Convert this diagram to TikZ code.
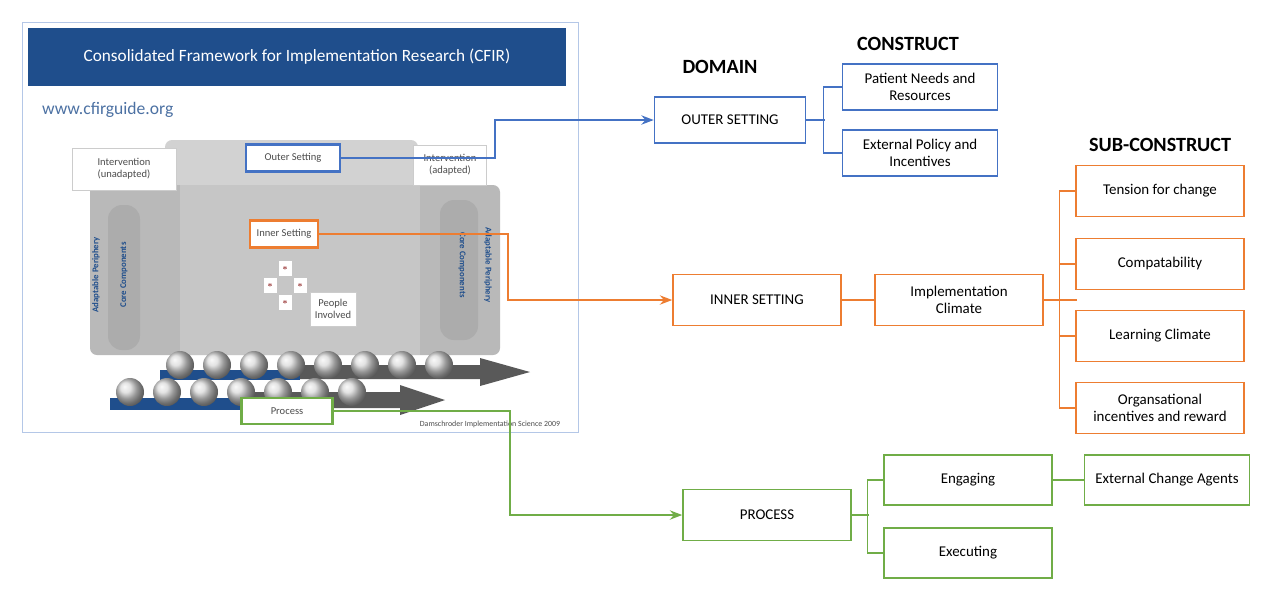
\documentclass[tikz,border=0pt]{standalone}
\usepackage{fontspec}
\setmainfont{Carlito}
\usetikzlibrary{arrows.meta,positioning}
\definecolor{cblue}{HTML}{4472C4}
\definecolor{corange}{HTML}{ED7D31}
\definecolor{cgreen}{HTML}{70AD47}
\definecolor{cbar}{HTML}{1F4E8C}
\tikzset{
  box/.style={draw, line width=0.9pt, fill=white, align=center, font=\fontsize{8.5}{10}\selectfont,
              minimum width=3.36cm, minimum height=1.02cm, inner sep=1pt},
  head/.style={font=\fontsize{11.5}{13}\selectfont\bfseries},
  tag/.style={draw=gray!40, fill=white, align=center, font=\fontsize{6}{7}\selectfont, text=gray!60!black, inner sep=1pt},
  link/.style={line width=1.2pt, -{Stealth[length=7pt]}},
}
\begin{document}
\begin{tikzpicture}[x=0.02cm, y=-0.02cm]
    \useasboundingbox (0,0) rectangle (1280,600);
    % left picture
    \draw[cblue!40, fill=white] (22,22) rectangle (578,432);
    \node[fill=cbar, text=white, minimum width=10.78cm, minimum height=1.16cm, font=\fontsize{9.8}{11}\selectfont] (title) at (297,57) {Consolidated Framework for Implementation Research (CFIR)};
    \node[text=cbar!80, font=\fontsize{10}{12}\selectfont, anchor=west] (url) at (36,110) {www.cfirguide.org};
    \fill[gray!35, rounded corners=4pt] (165,140) rectangle (418,190);
    \fill[gray!55, rounded corners=4pt] (90,185) rectangle (500,355);
    \fill[gray!45] (180,185) rectangle (420,355);
    \fill[gray!65, rounded corners=8pt] (108,205) rectangle (140,350);
    \fill[gray!65, rounded corners=8pt] (440,200) rectangle (478,340);
    \node[rotate=90, font=\fontsize{5}{6}\selectfont\bfseries, text=cbar] (adl) at (96,275) {Adaptable Periphery};
    \node[rotate=90, font=\fontsize{5}{6}\selectfont\bfseries, text=cbar] (ccl) at (124,275) {Core Components};
    \node[rotate=-90, font=\fontsize{5}{6}\selectfont\bfseries, text=cbar] (adr) at (488,265) {Adaptable Periphery};
    \node[rotate=-90, font=\fontsize{5}{6}\selectfont\bfseries, text=cbar] (ccr) at (462,265) {Core Components};
    \node[tag, minimum width=2.08cm, minimum height=0.84cm] (unad) at (124,169) {Intervention\\(unadapted)};
    \node[tag, minimum width=1.46cm, minimum height=0.8cm] (adap) at (450,165) {Intervention\\(adapted)};
    \node[tag, draw=cblue, line width=1.2pt, minimum width=1.88cm, minimum height=0.54cm] (outer) at (293,158) {Outer Setting};
    \node[tag, draw=corange, line width=1.4pt, minimum width=1.36cm, minimum height=0.54cm] (inner) at (284,234) {Inner Setting};
    \foreach \px/\py in {285/268, 270/285, 300/285, 285/302}
      \node[fill=white, minimum width=0.26cm, minimum height=0.3cm, inner sep=0pt, text=red!50!black, font=\tiny] at (\px,\py) {$\ast$};
    \node[tag, minimum width=0.92cm, minimum height=0.68cm] (people) at (333,309) {People\\Involved};
    % process arrows
    \fill[cbar] (160,370) rectangle (300,380);
    \fill[gray!70!black] (300,365) -- (480,365) -- (480,358) -- (530,372) -- (480,386) -- (480,379) -- (300,379) -- cycle;
    \fill[cbar] (110,398) rectangle (250,410);
    \fill[gray!70!black] (250,392) -- (400,392) -- (400,385) -- (445,400) -- (400,415) -- (400,408) -- (250,408) -- cycle;
    \foreach \cx in {180,217,...,440}
      \shade[ball color=gray!30] (\cx,365) circle[radius=14];
    \foreach \cx in {130,167,...,380}
      \shade[ball color=gray!30] (\cx,392) circle[radius=14];
    \node[tag, draw=cgreen, line width=1.4pt, minimum width=1.82cm, minimum height=0.52cm] (proc) at (287,411) {Process};
    \node[font=\fontsize{4.5}{5}\selectfont, text=gray!60!black] (ref) at (490,424) {Damschroder Implementation Science 2009};

    % headings
    \node[head] (hdom) at (720,67) {DOMAIN};
    \node[head] (hcon) at (908,44) {CONSTRUCT};
    \node[head] (hsub) at (1160,145) {SUB-CONSTRUCT};

    % outer setting
    \node[box, draw=cblue, minimum width=3.02cm, minimum height=0.92cm] (os) at (730,120) {OUTER SETTING};
    \node[box, draw=cblue, minimum width=3.1cm, minimum height=0.92cm] (pn) at (920,87) {Patient Needs and\\Resources};
    \node[box, draw=cblue, minimum width=3.1cm, minimum height=0.92cm] (ep) at (920,153) {External Policy and\\Incentives};
    \draw[cblue, thick] (os.east) -- ++(19,0);
    \draw[cblue, thick] (pn.west) -- ++(-18,0) |- (ep.west);

    % inner setting
    \node[box, draw=corange] (is) at (757,300) {INNER SETTING};
    \node[box, draw=corange] (ic) at (959,300) {Implementation\\Climate};
    \node[box, draw=corange] (tc) at (1160,191) {Tension for change};
    \node[box, draw=corange] (cp) at (1160,264) {Compatability};
    \node[box, draw=corange] (lc) at (1160,336) {Learning Climate};
    \node[box, draw=corange] (oi) at (1160,408) {Organsational\\incentives and reward};
    \draw[corange, thick] (is) -- (ic);
    \draw[corange, thick] (ic.east) -- ++(33,0);
    \draw[corange, thick] (tc.west) -- ++(-16,0) |- (oi.west);
    \draw[corange, thick] (cp.west) -- ++(-16,0);
    \draw[corange, thick] (lc.west) -- ++(-16,0);

    % process
    \node[box, draw=cgreen] (pr) at (767,515) {PROCESS};
    \node[box, draw=cgreen, minimum height=1cm] (en) at (968,480) {Engaging};
    \node[box, draw=cgreen, minimum height=1cm] (ex) at (968,553) {Executing};
    \node[box, draw=cgreen, minimum width=3.3cm, minimum height=1cm] (ca) at (1167,480) {External Change Agents};
    \draw[cgreen, thick] (pr.east) -- ++(17,0);
    \draw[cgreen, thick] (en.west) -- ++(-16,0) |- (ex.west);
    \draw[cgreen, thick] (en) -- (ca);

    % links
    \draw[link, cblue] (outer.east) -- (495,158) |- (os.west);
    \draw[link, corange] (inner.east) -- (508,234) |- (is.west);
    \draw[link, cgreen] (proc.east) -- (510,411) |- (pr.west);
\end{tikzpicture}
\end{document}
